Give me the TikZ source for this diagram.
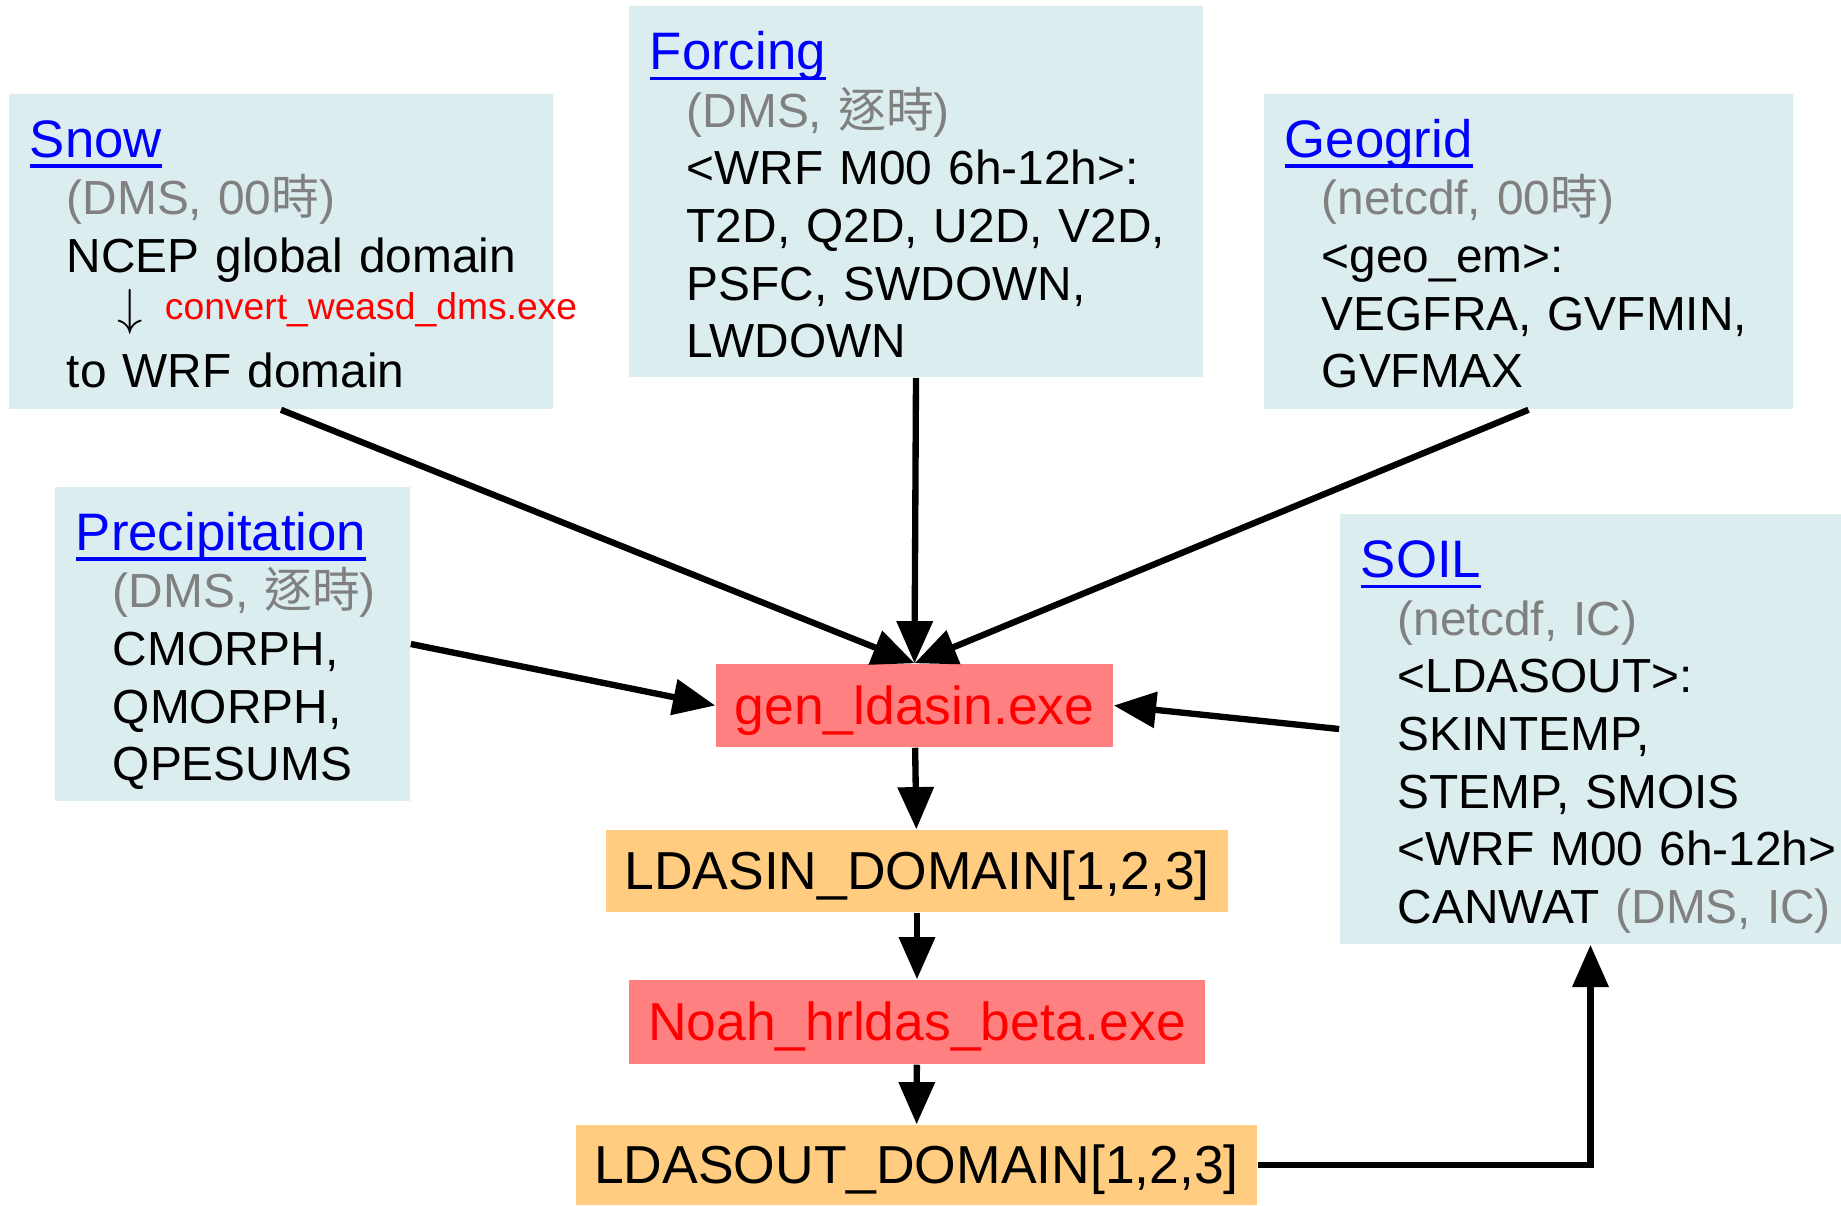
\documentclass[tikz,border=0pt]{standalone}
\usepackage{fontspec}
\setmainfont{Liberation Sans}
\newfontfamily\cjk{Noto Sans CJK TC}
\usetikzlibrary{arrows.meta,calc}
\setlength{\parindent}{0pt}
\definecolor{boxblue}{RGB}{220,237,240}
\definecolor{exered}{RGB}{255,128,128}
\definecolor{fileorange}{RGB}{255,204,128}
\definecolor{linkblue}{RGB}{0,0,255}
\definecolor{txtgray}{RGB}{128,128,128}
\newsavebox\ttlbox
\newcommand{\ttl}[1]{{\color{linkblue}\fontsize{15}{16.4}\selectfont\sbox\ttlbox{#1}\rlap{\rule[-3pt]{\wd\ttlbox}{0.9pt}}\usebox\ttlbox}}
\newcommand{\bline}[1]{\hspace*{10.5pt}\mbox{#1}}
\newcommand{\gr}[1]{\textcolor{txtgray}{#1}}

\begin{document}
\begin{tikzpicture}[x=0.01cm,y=-0.01cm,
	srcbox/.style={fill=boxblue,inner xsep=0.21cm,inner ysep=0pt,align=left,text height=0pt,font=\fontsize{13.6}{16.4}\selectfont},
	exebox/.style={fill=exered,text=red,inner sep=0pt,text height=0.37cm,text depth=0pt,font=\fontsize{15.2}{18}\selectfont},
	filebox/.style={fill=fileorange,inner sep=0pt,text height=0.37cm,text depth=0pt,font=\fontsize{15.2}{18}\selectfont},
	flow/.style={line width=1.8pt,-{Triangle[length=12pt,width=10pt]}}]
	\useasboundingbox (0,0) rectangle (1841,1205);
	% data sources
	\node[srcbox,text width=5.02cm,minimum height=3.15cm,text depth=1.888cm] (snow) at (281,251.5) {\ttl{Snow}\\
		\bline{\gr{(DMS, 00{\cjk 時})}}\\
		\bline{NCEP global domain}\\[-3pt]
		\bline{\hspace*{14.5pt}\raisebox{-1.5pt}{\fontsize{15}{15}\selectfont\smash{$\downarrow$}}\hspace{6.2pt}{\color{red}\fontsize{10.6}{12}\selectfont convert\_weasd\_dms.exe}}\\[3pt]
		\bline{to WRF domain}};
	\node[srcbox,text width=5.32cm,minimum height=3.71cm,text depth=2.44cm] (forcing) at (916,191.5) {\ttl{Forcing}\\
		\bline{\gr{(DMS, {\cjk 逐時})}}\\
		\bline{<WRF M00 6h-12h>:}\\
		\bline{T2D, Q2D, U2D, V2D,}\\
		\bline{PSFC, SWDOWN,}\\
		\bline{LWDOWN}};
	\node[srcbox,text width=4.87cm,minimum height=3.15cm,text depth=1.888cm] (geogrid) at (1528.5,251.5) {\ttl{Geogrid}\\
		\bline{\gr{(netcdf, 00{\cjk 時})}}\\
		\bline{<geo\_em>:}\\
		\bline{VEGFRA, GVFMIN,}\\
		\bline{GVFMAX}};
	\node[srcbox,text width=3.13cm,minimum height=3.14cm,text depth=1.878cm] (precip) at (232.5,644) {\ttl{Precipitation}\\
		\bline{\gr{(DMS, {\cjk 逐時})}}\\
		\bline{CMORPH,}\\
		\bline{QMORPH,}\\
		\bline{QPESUMS}};
	\node[srcbox,text width=4.59cm,minimum height=4.30cm,text depth=3.03cm] (soil) at (1590.5,729) {\ttl{SOIL}\\
		\bline{\gr{(netcdf, IC)}}\\
		\bline{<LDASOUT>:}\\
		\bline{SKINTEMP,}\\
		\bline{STEMP, SMOIS}\\
		\bline{<WRF M00 6h-12h>}\\
		\bline{CANWAT \gr{(DMS, IC)}}};
	% programs and files
	\node[exebox,minimum width=3.97cm,minimum height=0.83cm] (gen) at (914.5,705.5) {gen\_ldasin.exe};
	\node[filebox,minimum width=6.22cm,minimum height=0.82cm] (ldasin) at (917,871) {LDASIN\_DOMAIN[1,2,3]};
	\node[exebox,minimum width=5.76cm,minimum height=0.84cm] (noah) at (917,1022) {Noah\_hrldas\_beta.exe};
	\node[filebox,minimum width=6.81cm,minimum height=0.80cm] (ldasout) at (916.5,1165) {LDASOUT\_DOMAIN[1,2,3]};
	% connectors
	\foreach \s in {snow,forcing,geogrid} \draw[flow] (\s.south) -- (gen.north);
	\draw[flow] (precip.east) -- (gen.west);
	\draw[flow] (soil.west) -- (gen.east);
	\foreach \a/\b in {gen/ldasin,ldasin/noah,noah/ldasout} \draw[flow] (\a) -- (\b);
	\draw[flow] (ldasout.east) -| (soil.south);
\end{tikzpicture}
\end{document}
